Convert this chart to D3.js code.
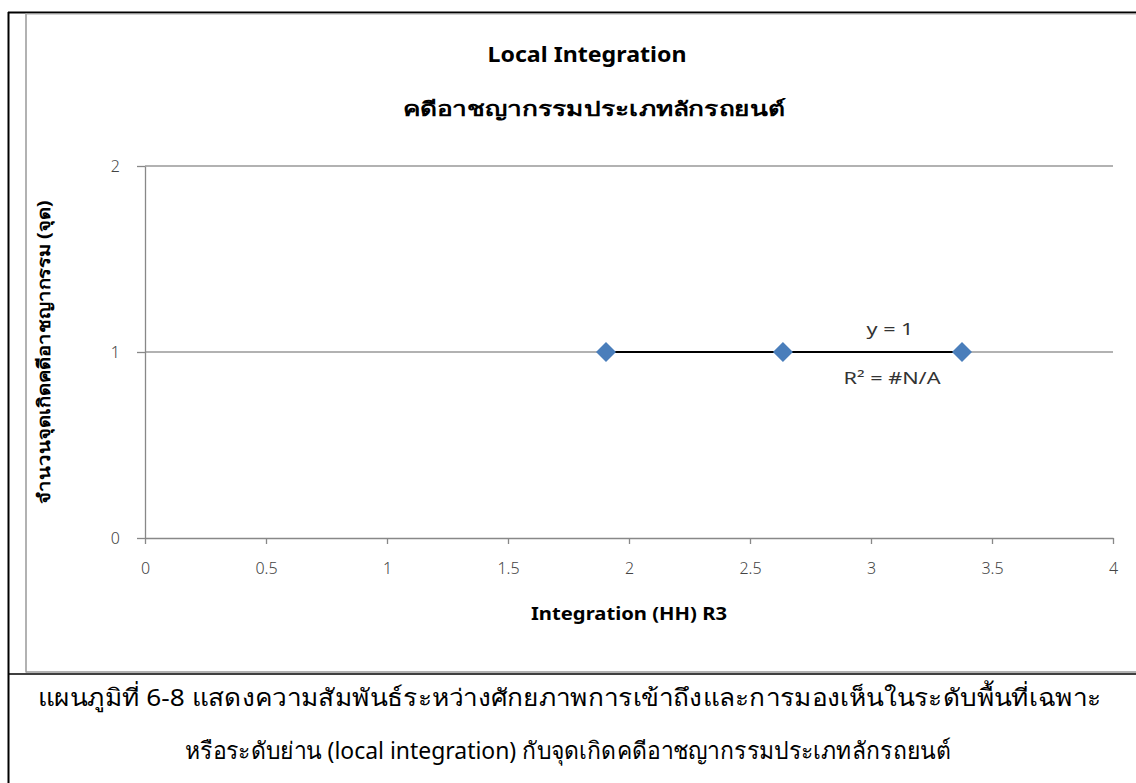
<!DOCTYPE html>
<html><head><meta charset="utf-8">
<script src="https://cdn.jsdelivr.net/npm/d3@7"></script>
<style>
html,body{margin:0;padding:0;background:#fff;}
svg{display:block;}
</style></head>
<body>
<svg id="c" width="1136" height="783"></svg>
<script>
const xValues = [1.905, 2.636, 3.376];
const yValues = [1, 1, 1];
const xTicks = [0, 0.5, 1, 1.5, 2, 2.5, 3, 3.5, 4];
const xTickLabels = ["0", "0.5", "1", "1.5", "2", "2.5", "3", "3.5", "4"];
const yTicks = [0, 1, 2];
const yTickLabels = ["0", "1", "2"];
const titleLine1 = "Local Integration";
const titleLine2 = "คดีอาชญากรรมประเภทลักรถยนต์";
const xAxisTitle = "Integration (HH) R3";
const yAxisTitle = "จำนวนจุดเกิดคดีอาชญากรรม (จุด)";
const trendEq = "y = 1";
const trendR2 = "R² = #N/A";
const captionLines = [
  "แผนภูมิที่ 6-8 แสดงความสัมพันธ์ระหว่างศักยภาพการเข้าถึงและการมองเห็นในระดับพื้นที่เฉพาะ",
  "หรือระดับย่าน (local integration) กับจุดเกิดคดีอาชญากรรมประเภทลักรถยนต์"
];

const font = "'Noto Sans', 'Open Sans', sans-serif";
const svg = d3.select("#c");

// borders
svg.append("line").attr("x1",8.5).attr("x2",8.5).attr("y1",12).attr("y2",783).attr("stroke","#000").attr("stroke-width",2);
svg.append("line").attr("x1",8).attr("x2",1136).attr("y1",12.5).attr("y2",12.5).attr("stroke","#000").attr("stroke-width",2);
svg.append("line").attr("x1",8).attr("x2",1136).attr("y1",674).attr("y2",674).attr("stroke","#000").attr("stroke-width",1.5);
// inner chart frame (gray)
svg.append("line").attr("x1",26).attr("x2",26).attr("y1",13).attr("y2",672.5).attr("stroke","#999").attr("stroke-width",1.5);
svg.append("line").attr("x1",26).attr("x2",1136).attr("y1",14).attr("y2",14).attr("stroke","#aaa").attr("stroke-width",1);
svg.append("line").attr("x1",26).attr("x2",1136).attr("y1",672).attr("y2",672).attr("stroke","#999").attr("stroke-width",1.5);

const x = d3.scaleLinear().domain([0,4]).range([145,1113]);
const y = d3.scaleLinear().domain([0,2]).range([538,166]);

// gridlines
svg.append("g").selectAll("line").data(yTicks.filter(d=>d>0)).join("line")
  .attr("x1",x(0)).attr("x2",x(4)).attr("y1",d=>y(d)).attr("y2",d=>y(d))
  .attr("stroke","#999").attr("stroke-width",1.3);

// x axis
const xAxis = d3.axisBottom(x).tickValues(xTicks).tickFormat((d,i)=>xTickLabels[i]).tickSizeInner(6).tickSizeOuter(0).tickPadding(19);
const gx = svg.append("g").attr("transform",`translate(0,${y(0)})`).call(xAxis);
gx.select(".domain").attr("stroke","#888").attr("stroke-width",1.3);
gx.selectAll(".tick line").attr("stroke","#888").attr("stroke-width",1.3);
gx.selectAll(".tick text").attr("fill","#444").style("font-family",font).style("font-size","16px").style("font-weight","300");

// y axis
const yAxis = d3.axisLeft(y).tickValues(yTicks).tickFormat((d,i)=>yTickLabels[i]).tickSizeInner(8).tickSizeOuter(0).tickPadding(17);
const gy = svg.append("g").attr("transform",`translate(${x(0)},0)`).call(yAxis);
gy.select(".domain").attr("stroke","#888").attr("stroke-width",1.3);
gy.selectAll(".tick line").attr("stroke","#888").attr("stroke-width",1.3);
gy.selectAll(".tick text").attr("fill","#444").style("font-family",font).style("font-size","16px").style("font-weight","300");

// trendline
const xMin = d3.min(xValues), xMax = d3.max(xValues);
svg.append("line").attr("x1",x(xMin)).attr("x2",x(xMax)).attr("y1",y(1)).attr("y2",y(1))
  .attr("stroke","#000").attr("stroke-width",2);

// points
const pts = xValues.map((v,i)=>({x:v,y:yValues[i]}));
svg.append("g").selectAll("path").data(pts).join("path")
  .attr("transform",d=>`translate(${x(d.x)},${y(d.y)})`)
  .attr("d","M0,-10L10,0L0,10L-10,0Z")
  .attr("fill","#4a7ebb");

function txt(t, xx, yy, size, weight, len, anchor){
  const e = svg.append("text").attr("x",xx).attr("y",yy).attr("text-anchor",anchor||"middle").attr("fill","#000")
    .style("font-family",font).style("font-size",size+"px").style("font-weight",weight).text(t);
  if (len) e.attr("textLength",len).attr("lengthAdjust","spacingAndGlyphs");
  return e;
}

// trend labels
txt(trendEq, 890, 335, 17, "normal", 47).attr("fill","#333");
txt(trendR2, 892, 384, 17, "normal", 97).attr("fill","#333");

// titles
txt(titleLine1, 587, 62, 21, "bold", 199);
txt(titleLine2, 594, 116, 20, "bold", 383);
txt(xAxisTitle, 629, 620, 17, "bold", 196);
txt(yAxisTitle, 0, 0, 17, "bold", 303).attr("transform","translate(50,352) rotate(-90)");

// caption
txt(captionLines[0], 38, 706, 24, "normal", 1063, "start");
txt(captionLines[1], 568, 759, 24, "normal", 766);
</script>
</body></html>
